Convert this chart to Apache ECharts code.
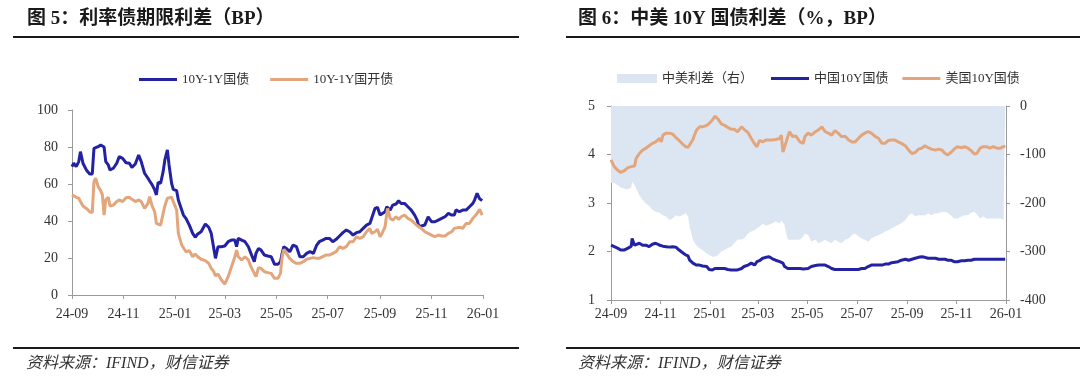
<!DOCTYPE html>
<html><head><meta charset="utf-8">
<script src="https://cdn.jsdelivr.net/npm/echarts@6/dist/echarts.min.js"></script>
<style>html,body{margin:0;padding:0;background:#fff}#c{width:1080px;height:380px}</style>
</head><body><div id="c"></div>
<script>
// ---------- Figure 5: term spreads (BP) ----------
const leftDates = ['2024-09-01','2024-09-03','2024-09-06','2024-09-09','2024-09-11','2024-09-14','2024-09-18','2024-09-22','2024-09-25','2024-09-27','2024-09-29','2024-10-02','2024-10-05','2024-10-07','2024-10-09','2024-10-11','2024-10-14','2024-10-16','2024-10-20','2024-10-24','2024-10-27','2024-10-31','2024-11-04','2024-11-08','2024-11-11','2024-11-15','2024-11-19','2024-11-22','2024-11-26','2024-11-30','2024-12-02','2024-12-05','2024-12-08','2024-12-10','2024-12-12','2024-12-15','2024-12-18','2024-12-20','2024-12-23','2024-12-25','2024-12-28','2024-12-30','2025-01-03','2025-01-05','2025-01-09','2025-01-11','2025-01-14','2025-01-18','2025-01-22','2025-01-25','2025-01-28','2025-02-01','2025-02-06','2025-02-10','2025-02-13','2025-02-16','2025-02-18','2025-02-21','2025-02-25','2025-03-01','2025-03-03','2025-03-05','2025-03-09','2025-03-13','2025-03-15','2025-03-17','2025-03-21','2025-03-25','2025-03-29','2025-04-01','2025-04-05','2025-04-07','2025-04-10','2025-04-13','2025-04-17','2025-04-21','2025-04-25','2025-04-29','2025-05-03','2025-05-06','2025-05-08','2025-05-10','2025-05-13','2025-05-17','2025-05-21','2025-05-25','2025-05-29','2025-06-02','2025-06-06','2025-06-10','2025-06-14','2025-06-18','2025-06-21','2025-06-25','2025-06-29','2025-07-03','2025-07-07','2025-07-11','2025-07-15','2025-07-19','2025-07-23','2025-07-27','2025-07-31','2025-08-04','2025-08-08','2025-08-12','2025-08-16','2025-08-20','2025-08-22','2025-08-26','2025-08-29','2025-09-01','2025-09-03','2025-09-07','2025-09-09','2025-09-10','2025-09-13','2025-09-16','2025-09-20','2025-09-23','2025-09-26','2025-09-30','2025-10-04','2025-10-08','2025-10-12','2025-10-15','2025-10-17','2025-10-20','2025-10-24','2025-10-28','2025-11-01','2025-11-05','2025-11-09','2025-11-13','2025-11-17','2025-11-21','2025-11-25','2025-11-28','2025-11-30','2025-12-04','2025-12-08','2025-12-12','2025-12-16','2025-12-20','2025-12-22','2025-12-25','2025-12-28','2025-12-31'];
const gov10y1y = [69.4,71.2,69.4,72.1,77.5,71.2,67.6,65.4,65.4,79.3,78.7,80.2,81.1,82.0,80.0,72.1,70.3,67.6,68.5,71.2,74.8,73.9,71.5,71.2,69.0,70.8,75.7,72.1,65.8,63.1,61.6,59.5,56.8,54.1,60.9,60.4,66.7,73.0,78.4,70.3,60.4,57.1,56.4,51.4,45.9,43.2,41.4,37.8,33.3,31.2,33.0,34.2,38.4,36.6,33.3,25.2,19.8,26.1,26.1,26.5,27.0,28.8,29.7,29.7,26.1,30.6,29.7,28.8,26.1,22.5,18.0,22.5,25.2,24.3,21.6,21.1,20.7,16.6,16.6,18.0,22.5,26.1,25.2,23.4,27.0,26.1,20.7,20.7,22.5,23.4,22.5,27.0,28.8,29.7,30.6,30.6,28.8,30.1,31.9,33.7,35.1,34.2,32.4,33.7,34.2,36.0,37.8,38.7,41.4,46.8,47.4,43.2,42.7,45.0,47.7,47.7,45.9,48.6,49.2,51.0,49.5,49.5,47.7,45.9,43.2,40.5,36.9,37.3,37.8,42.3,39.6,39.6,40.5,41.4,42.3,44.1,43.2,43.2,46.0,45.0,45.9,45.9,47.7,49.5,51.3,55.0,52.0,51.0];
const cdb10y1y = [54.1,53.7,52.8,52.3,50.5,48.1,46.8,45.0,44.5,61.3,63.1,58.6,56.4,54.1,43.2,51.4,52.8,48.1,48.6,50.5,51.4,50.5,52.6,52.8,51.7,50.5,51.4,50.5,46.8,49.5,53.2,48.1,45.0,38.7,39.6,37.8,44.1,48.1,52.3,51.7,52.8,52.3,45.9,33.3,27.0,26.1,23.4,24.0,20.7,22.2,20.7,19.3,18.6,17.1,14.4,12.6,10.3,11.4,8.1,5.9,5.4,9.9,15.3,20.7,24.3,20.7,18.9,20.7,18.9,15.3,11.7,9.9,14.8,14.4,12.6,12.1,11.7,9.0,9.0,11.7,20.7,24.7,22.5,19.8,18.0,17.1,17.1,18.0,19.3,19.8,20.2,19.8,19.8,20.7,21.6,21.6,22.5,23.4,26.1,25.2,26.1,28.8,28.8,31.5,30.6,31.5,34.2,36.0,33.3,34.2,35.5,31.5,32.9,36.9,44.1,46.8,41.4,40.5,42.3,40.9,42.3,43.2,41.4,40.5,38.7,37.5,36.8,36.0,34.2,33.3,32.4,31.5,32.4,31.9,31.9,33.3,34.2,36.0,35.1,36.6,36.0,38.7,38.7,41.4,42.5,44.1,46.3,43.2];

// ---------- Figure 6: China-US 10Y ----------
const rightDates = ['2024-09-01','2024-09-05','2024-09-09','2024-09-13','2024-09-17','2024-09-22','2024-09-26','2024-09-27','2024-09-30','2024-10-02','2024-10-06','2024-10-10','2024-10-14','2024-10-18','2024-10-22','2024-10-26','2024-10-31','2024-11-02','2024-11-04','2024-11-08','2024-11-12','2024-11-16','2024-11-20','2024-11-24','2024-11-28','2024-12-02','2024-12-05','2024-12-07','2024-12-11','2024-12-15','2024-12-19','2024-12-23','2024-12-28','2024-12-31','2025-01-04','2025-01-07','2025-01-11','2025-01-15','2025-01-19','2025-01-23','2025-01-27','2025-01-31','2025-02-04','2025-02-09','2025-02-12','2025-02-17','2025-02-21','2025-02-25','2025-02-28','2025-03-03','2025-03-07','2025-03-11','2025-03-15','2025-03-19','2025-03-23','2025-03-28','2025-03-30','2025-04-01','2025-04-03','2025-04-05','2025-04-07','2025-04-09','2025-04-13','2025-04-17','2025-04-22','2025-04-26','2025-04-28','2025-05-02','2025-05-06','2025-05-11','2025-05-15','2025-05-19','2025-05-23','2025-05-27','2025-05-31','2025-06-04','2025-06-08','2025-06-12','2025-06-17','2025-06-21','2025-06-25','2025-06-29','2025-07-03','2025-07-07','2025-07-11','2025-07-15','2025-07-19','2025-07-24','2025-07-28','2025-08-01','2025-08-05','2025-08-09','2025-08-13','2025-08-17','2025-08-21','2025-08-25','2025-08-30','2025-09-03','2025-09-07','2025-09-11','2025-09-15','2025-09-19','2025-09-23','2025-09-27','2025-10-01','2025-10-06','2025-10-10','2025-10-14','2025-10-18','2025-10-21','2025-10-25','2025-10-29','2025-11-02','2025-11-07','2025-11-11','2025-11-15','2025-11-19','2025-11-23','2025-11-26','2025-11-30','2025-12-04','2025-12-08','2025-12-12','2025-12-16','2025-12-21','2025-12-25','2025-12-29','2025-12-31'];
const us10y = [3.89,3.75,3.68,3.63,3.66,3.73,3.75,3.76,3.76,3.92,4.02,4.09,4.13,4.18,4.23,4.26,4.33,4.26,4.40,4.44,4.44,4.42,4.35,4.29,4.22,4.16,4.15,4.20,4.31,4.49,4.57,4.57,4.60,4.64,4.71,4.79,4.73,4.63,4.60,4.56,4.52,4.52,4.47,4.57,4.52,4.45,4.33,4.22,4.16,4.29,4.26,4.30,4.30,4.30,4.31,4.33,4.40,4.05,4.03,4.26,4.37,4.47,4.37,4.38,4.26,4.23,4.37,4.44,4.40,4.47,4.51,4.57,4.47,4.44,4.40,4.49,4.44,4.37,4.37,4.30,4.26,4.26,4.33,4.40,4.44,4.47,4.44,4.37,4.33,4.23,4.23,4.29,4.30,4.30,4.26,4.23,4.18,4.09,4.02,4.04,4.11,4.13,4.18,4.14,4.11,4.09,4.11,4.09,4.02,3.99,4.04,4.11,4.16,4.14,4.16,4.13,4.08,4.01,4.02,4.13,4.16,4.16,4.13,4.16,4.13,4.13,4.16,4.18];
const cn10y = [2.13,2.10,2.07,2.03,2.03,2.07,2.11,2.27,2.13,2.17,2.17,2.13,2.13,2.10,2.15,2.17,2.13,2.10,2.11,2.10,2.09,2.10,2.09,2.03,1.98,1.93,1.91,1.82,1.76,1.72,1.72,1.70,1.69,1.63,1.62,1.65,1.65,1.65,1.65,1.63,1.62,1.62,1.62,1.65,1.69,1.72,1.76,1.72,1.79,1.81,1.86,1.88,1.89,1.85,1.82,1.79,1.79,1.76,1.69,1.65,1.65,1.65,1.65,1.65,1.65,1.64,1.62,1.65,1.69,1.71,1.72,1.72,1.72,1.69,1.65,1.63,1.63,1.63,1.63,1.63,1.63,1.63,1.63,1.65,1.65,1.69,1.72,1.72,1.72,1.72,1.74,1.74,1.77,1.78,1.79,1.82,1.84,1.82,1.84,1.86,1.88,1.89,1.88,1.86,1.86,1.86,1.84,1.84,1.84,1.82,1.82,1.79,1.79,1.81,1.81,1.82,1.82,1.84,1.84,1.84,1.84,1.84,1.84,1.84,1.84,1.84,1.84,1.84];
const cnUsSpread = [-159,-159,-163,-168,-170,-172,-168,-156,-163,-170,-184,-194,-201,-206,-214,-218,-220,-221,-225,-228,-235,-232,-225,-228,-225,-221,-228,-249,-276,-287,-293,-297,-304,-307,-311,-311,-307,-300,-297,-293,-290,-283,-276,-275,-273,-263,-259,-256,-252,-249,-243,-247,-245,-242,-238,-242,-236,-232,-245,-263,-276,-280,-276,-276,-275,-269,-263,-266,-280,-276,-283,-280,-276,-280,-283,-276,-280,-283,-276,-273,-266,-263,-269,-273,-276,-280,-273,-269,-266,-263,-259,-256,-252,-249,-245,-242,-235,-225,-221,-228,-225,-225,-225,-221,-225,-221,-221,-218,-218,-220,-225,-232,-232,-228,-225,-225,-220,-218,-223,-232,-228,-232,-232,-232,-232,-232,-235,-235];

const xTickDates = ['2024-09-01','2024-11-01','2025-01-01','2025-03-01','2025-05-01','2025-07-01','2025-09-01','2025-11-01','2026-01-01'];
const xTickLabels = ['24-09','24-11','25-01','25-03','25-05','25-07','25-09','25-11','26-01'];
const leftYTicks = {min: 0, max: 100, interval: 20};
const rightYLeftTicks = {min: 1, max: 5, interval: 1};
const rightYRightTicks = {min: -400, max: 0, interval: 100};

const FONT = "'Liberation Serif','Noto Sans CJK SC',serif";
const BLUE = '#2222A2';
const ORANGE = '#E3A67C';
const AREA = '#DCE6F2';
const AXIS = '#9A9A9A';
const TXT = '#333333';

const toTime = s => { const p = s.split('-').map(Number); return Date.UTC(p[0], p[1] - 1, p[2]); };
const tickTimes = xTickDates.map(toTime);
function xLabel(v) {
  for (let i = 0; i < tickTimes.length; i++) {
    if (Math.abs(tickTimes[i] - v) < 43200000) return xTickLabels[i];
  }
  return '';
}
const zip = (xs, ys) => xs.map((x, i) => [toTime(x), ys[i]]);

function xAxisFor(gridIndex, margin) {
  return {
    type: 'value', gridIndex, scale: true,
    min: tickTimes[0], max: tickTimes[tickTimes.length - 1],
    axisLine: {show: true, onZero: false, lineStyle: {color: AXIS, width: 1}},
    axisTick: {show: true, length: 4, lineStyle: {color: AXIS}, customValues: tickTimes},
    axisLabel: {customValues: tickTimes, formatter: xLabel, margin, color: TXT, fontFamily: FONT, fontSize: 14,
                showMinLabel: true, showMaxLabel: true},
    splitLine: {show: false}
  };
}
function yAxisFor(gridIndex, t, position, margin) {
  return {
    type: 'value', gridIndex, position,
    min: t.min, max: t.max, interval: t.interval,
    axisLine: {show: true, onZero: false, lineStyle: {color: AXIS, width: 1}},
    axisTick: {show: true, length: 4, lineStyle: {color: AXIS}},
    axisLabel: {margin, color: TXT, fontFamily: FONT, fontSize: 14},
    splitLine: {show: false}
  };
}
const legendText = {fontFamily: FONT, fontSize: 13, color: TXT};

const option = {
  animation: false,
  backgroundColor: '#fff',
  grid: [
    {left: 72, top: 110, width: 411, height: 185},
    {left: 611, top: 106, width: 395, height: 194}
  ],
  xAxis: [xAxisFor(0, 12), xAxisFor(1, 7)],
  yAxis: [
    yAxisFor(0, leftYTicks, 'left', 14),
    yAxisFor(1, rightYLeftTicks, 'left', 16),
    yAxisFor(1, rightYRightTicks, 'right', 14)
  ],
  legend: [
    {left: 134, top: 68, icon: 'rect', itemWidth: 38, itemHeight: 3, itemGap: 21, selectedMode: false,
     textStyle: legendText, data: ['10Y-1Y国债', '10Y-1Y国开债']},
    {left: 612, top: 67, icon: 'rect', itemWidth: 40, itemHeight: 9, selectedMode: false,
     textStyle: legendText, data: ['中美利差（右）']},
    {left: 766, top: 67, icon: 'rect', itemWidth: 38, itemHeight: 3, itemGap: 14, selectedMode: false,
     textStyle: legendText, data: ['中国10Y国债', '美国10Y国债']}
  ],
  series: [
    {name: '10Y-1Y国债', type: 'line', xAxisIndex: 0, yAxisIndex: 0, data: zip(leftDates, gov10y1y),
     symbol: 'none', color: BLUE, lineStyle: {color: BLUE, width: 3}},
    {name: '10Y-1Y国开债', type: 'line', xAxisIndex: 0, yAxisIndex: 0, data: zip(leftDates, cdb10y1y),
     symbol: 'none', color: ORANGE, lineStyle: {color: ORANGE, width: 3}},
    {name: '中美利差（右）', type: 'line', xAxisIndex: 1, yAxisIndex: 2, data: zip(rightDates, cnUsSpread),
     symbol: 'none', color: AREA, itemStyle: {color: AREA}, lineStyle: {width: 0, opacity: 0},
     areaStyle: {color: AREA, opacity: 1, origin: 'end'}},
    {name: '中国10Y国债', type: 'line', xAxisIndex: 1, yAxisIndex: 1, data: zip(rightDates, cn10y),
     symbol: 'none', color: BLUE, lineStyle: {color: BLUE, width: 3}},
    {name: '美国10Y国债', type: 'line', xAxisIndex: 1, yAxisIndex: 1, data: zip(rightDates, us10y),
     symbol: 'none', color: ORANGE, lineStyle: {color: ORANGE, width: 3}}
  ],
  graphic: [
    {type: 'text', left: 27, top: 10, style: {text: '图 5：利率债期限利差（BP）', font: 'bold 19px ' + FONT, fill: '#1a1a1a'}},
    {type: 'line', shape: {x1: 13, y1: 37, x2: 519, y2: 37}, style: {stroke: '#1a1a1a', lineWidth: 2}},
    {type: 'text', left: 578, top: 10, style: {text: '图 6：中美 10Y 国债利差（%，BP）', font: 'bold 19px ' + FONT, fill: '#1a1a1a'}},
    {type: 'line', shape: {x1: 566, y1: 37, x2: 1080, y2: 37}, style: {stroke: '#1a1a1a', lineWidth: 2}},
    {type: 'line', shape: {x1: 13, y1: 348, x2: 519, y2: 348}, style: {stroke: '#1a1a1a', lineWidth: 2}},
    {type: 'line', shape: {x1: 566, y1: 348, x2: 1080, y2: 348}, style: {stroke: '#1a1a1a', lineWidth: 2}},
    {type: 'text', left: 26, top: 356, style: {text: '资料来源：IFIND，财信证券', font: 'italic 16px ' + FONT, fill: '#333'}},
    {type: 'text', left: 578, top: 356, style: {text: '资料来源：IFIND，财信证券', font: 'italic 16px ' + FONT, fill: '#333'}}
  ]
};
const chart = echarts.init(document.getElementById('c'), null, {renderer: 'canvas'});
chart.setOption(option);
</script>
</body></html>
